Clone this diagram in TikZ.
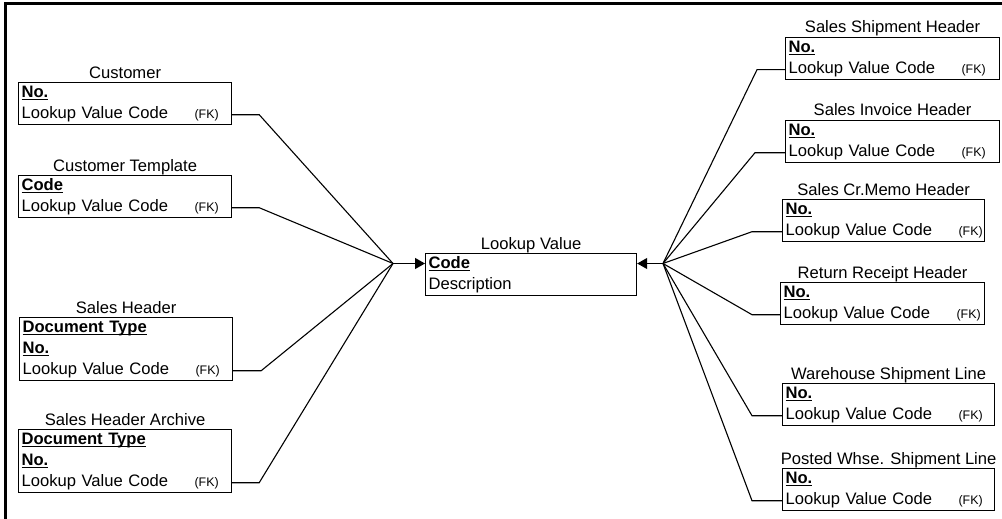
\documentclass[tikz,border=0pt]{standalone}
\usepackage{fontspec}
\setmainfont{Liberation Sans}
\usetikzlibrary{arrows.meta}
\newcommand{\tblfont}{\fontsize{16.6}{21}\selectfont}
\newcommand{\pk}[1]{\leavevmode\setbox0\hbox{\bfseries #1}\rlap{\rule[-3pt]{\wd0}{1.3pt}}\box0\strut}
\newcommand{\fk}{\leavevmode\makebox[173pt][l]{Lookup Value Code}{\fontsize{12.4}{14}\selectfont(FK)}\strut}
\tikzset{
  tbl/.style={draw, line width=1.2pt, anchor=north west, inner xsep=3pt, inner ysep=0pt,
    align=left, font=\tblfont},
  ttl/.style={anchor=base, yshift=4pt, inner sep=0pt, font=\tblfont},
  conn/.style={line width=1.1pt},
}
\begin{document}
\begin{tikzpicture}[x=1pt, y={(0pt,-1pt)}]
\useasboundingbox (0,0) rectangle (1002,519);
\draw[line width=3pt] (5.5,519) -- (5.5,3.5) -- (1002,3.5);
% centre table
\node[tbl, text width=205pt, label={[ttl]north:Lookup Value}] (lv) at (425,253) {\pk{Code}\\Description\strut};
\coordinate (hubL) at (393,263.5);
\coordinate (hubR) at (663,263.5);
% left tables
\node[tbl, text width=207pt, label={[ttl]north:Customer}] (cust) at (18,82) {\pk{No.}\\\fk};
\node[tbl, text width=207pt, label={[ttl]north:Customer Template}] (ctpl) at (18,175) {\pk{Code}\\\fk};
\node[tbl, text width=207pt, label={[ttl]north:Sales Header}] (sh) at (19,317) {\pk{Document Type}\\\pk{No.}\\\fk};
\node[tbl, text width=207pt, label={[ttl]north:Sales Header Archive}] (sha) at (18,429) {\pk{Document Type}\\\pk{No.}\\\fk};
% right tables
\node[tbl, text width=208pt, label={[ttl]north:Sales Shipment Header}] (ssh) at (785,37) {\pk{No.}\\\fk};
\node[tbl, text width=208pt, label={[ttl]north:Sales Invoice Header}] (sih) at (785,120) {\pk{No.}\\\fk};
\node[tbl, text width=196pt, label={[ttl]north:Sales Cr.Memo Header}] (scmh) at (782,199) {\pk{No.}\\\fk};
\node[tbl, text width=198pt, label={[ttl]north:Return Receipt Header}] (rrh) at (780,282) {\pk{No.}\\\fk};
\node[tbl, text width=206pt, label={[ttl]north:Warehouse Shipment Line}] (wsl) at (782,383) {\pk{No.}\\\fk};
\node[tbl, text width=206pt, label={[ttl]north:Posted Whse. Shipment Line}] (pwsl) at (782,468) {\pk{No.}\\\fk};
% connectors
\draw[conn] ([yshift=10.5pt]cust.south east) -- ++(27,0) -- (hubL);
\draw[conn] ([yshift=10.5pt]ctpl.south east) -- ++(27,0) -- (hubL);
\draw[conn] ([yshift=10.5pt]sh.south east) -- ++(28,0) -- (hubL);
\draw[conn] ([yshift=10.5pt]sha.south east) -- ++(27,0) -- (hubL);
\draw[conn] ([yshift=10.5pt]ssh.south west) -- ++(-28,0) -- (hubR);
\draw[conn] ([yshift=10.5pt]sih.south west) -- ++(-30,0) -- (hubR);
\draw[conn] ([yshift=10.5pt]scmh.south west) -- ++(-30,0) -- (hubR);
\draw[conn] ([yshift=10.5pt]rrh.south west) -- ++(-28,0) -- (hubR);
\draw[conn] ([yshift=10.5pt]wsl.south west) -- ++(-30,0) -- (hubR);
\draw[conn] ([yshift=10.5pt]pwsl.south west) -- ++(-30,0) -- (hubR);
\draw[conn, -{Triangle[length=10pt,width=11pt]}] (hubL) -- (hubL -| lv.west);
\draw[conn, -{Triangle[length=10pt,width=11pt]}] (hubR) -- (hubR -| lv.east);
\end{tikzpicture}
\end{document}
